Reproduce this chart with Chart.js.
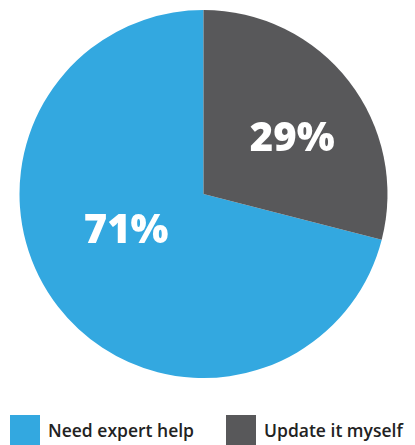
<!DOCTYPE html>
<html>
<head>
<meta charset="utf-8">
<script src="https://cdn.jsdelivr.net/npm/chart.js@4"></script>
<style>
  html, body { margin: 0; padding: 0; background: #fff; overflow: hidden; }
  #wrap { position: relative; width: 415px; height: 445px; }
  #box { position: absolute; left: 0; top: 0; width: 415px; height: 388px; }
  #legenda {
    position: absolute; left: 10px; top: 415px;
    display: flex; margin: 0; padding: 0; list-style: none; white-space: nowrap;
    font: 600 17.5px "Open Sans"; color: #222;
  }
  #legenda li { display: flex; align-items: center; margin-right: 32px; height: 30px; }
  #legenda span { display: inline-block; width: 30px; height: 30px; margin-right: 8px; }
</style>
</head>
<body>
<div id="wrap">
  <div id="box"><canvas id="chartPie"></canvas></div>
  <ul id="legenda"></ul>
</div>
<script>
// Dados do gráfico
const categorias = ['Need expert help', 'Update it myself'];
const valores = [71, 29];
const rotulos = ['71%', '29%'];
const cores = ['#33A8E0', '#58585A'];

// Rótulos dentro das fatias
const pieLabels = {
    id: 'pieLabels',
    afterDatasetsDraw(chart, args, opts) {
        const ctx = chart.ctx;
        const arcs = chart.getDatasetMeta(0).data;
        ctx.save();
        ctx.fillStyle = '#fff';
        ctx.font = '800 40px "Open Sans"';
        ctx.textAlign = 'center';
        ctx.textBaseline = 'middle';
        arcs.forEach((arc, i) => {
            const p = arc.getProps(['x', 'y', 'startAngle', 'endAngle', 'outerRadius'], true);
            const ang = (p.startAngle + p.endAngle) / 2 + opts.shift[i] * Math.PI / 180;
            const r = p.outerRadius * opts.dist[i];
            ctx.fillText(rotulos[i], p.x + Math.cos(ang) * r, p.y + Math.sin(ang) * r + 2);
        });
        ctx.restore();
    },
};

// Legenda em HTML (gerada a partir dos itens do gráfico)
const htmlLegend = {
    id: 'htmlLegend',
    afterUpdate(chart) {
        const ul = document.getElementById('legenda');
        ul.innerHTML = '';
        chart.options.plugins.legend.labels.generateLabels(chart).forEach(item => {
            const li = document.createElement('li');
            const sw = document.createElement('span');
            sw.style.background = item.fillStyle;
            li.appendChild(sw);
            li.appendChild(document.createTextNode(item.text));
            ul.appendChild(li);
        });
    },
};

const ctxPie = document.getElementById('chartPie').getContext('2d');
const chartPie = new Chart(ctxPie, {
    type: 'pie',
    data: {
        labels: categorias,
        datasets: [{
            data: valores,
            backgroundColor: cores,
            borderWidth: 0,
        }],
    },
    options: {
        responsive: true,
        maintainAspectRatio: false,
        animation: false,
        rotation: 104.4, // fatia azul começa depois da cinza
        radius: 184,
        layout: { padding: { top: 0, bottom: 0, left: 0, right: 8 } },
        plugins: {
            tooltip: { enabled: false },
            legend: { display: false },
            pieLabels: { shift: [12.8, 5.4], dist: [0.464, 0.571] },
        },
    },
    plugins: [pieLabels, htmlLegend],
});
</script>
</body>
</html>
